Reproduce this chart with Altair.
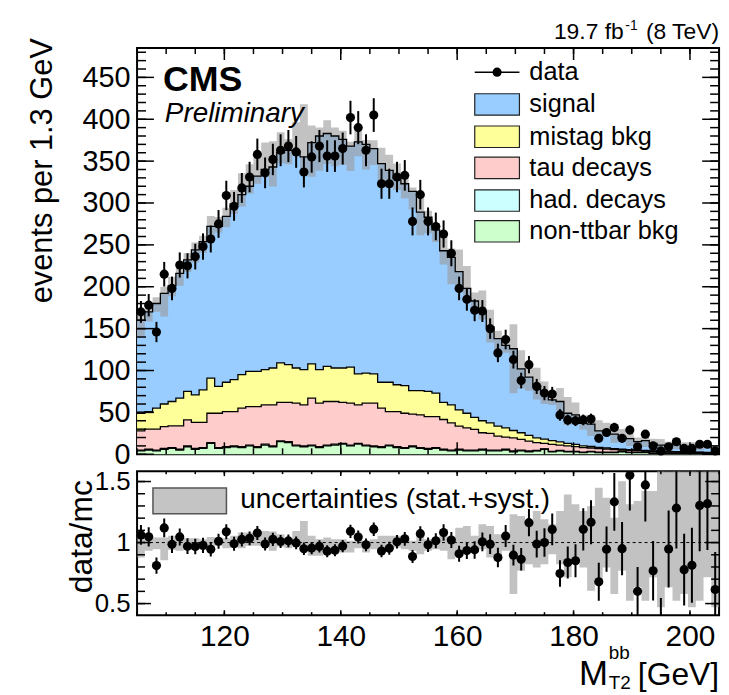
import altair as alt
import pandas as pd

FONT = "Liberation Sans"

# ---------------- data ----------------
x_lo, x_hi, n_bins = 105.0, 205.0, 75

data_counts = [170, 178, 146, 215, 198, 226, 225, 236, 248, 257,
               275, 309, 296, 318, 331, 358, 336, 352, 363, 368,
               361, 337, 355, 368, 356, 356, 365, 402, 390, 363,
               405, 323, 323, 331, 333, 278, 310, 278, 272, 263,
               240, 198, 185, 172, 171, 150, 121, 137, 113, 88,
               107, 81, 73, 72, 47, 41, 40, 41, 42, 19,
               26, 32, 19, 29, 9, 24, 10, 4, 9, 15,
               7, 7, 12, 12, 4]

signal = [111, 119, 125, 132, 138, 149, 157, 173, 177, 181,
          191, 198, 210, 215, 221, 233, 239, 240, 251, 256,
          259, 254, 264, 279, 278, 277, 273, 264, 277, 273,
          269, 261, 253, 246, 241, 238, 213, 208, 195, 181,
          176, 165, 149, 139, 130, 114.5, 104.4, 98.4, 97.6, 76.3,
          69.5, 62.3, 54.8, 48.6, 48.2, 35.9, 35.3, 26.9, 26.7, 19.8,
          19.9, 17.4, 14.0, 13.2, 10.0, 11.8, 8.9, 7.2, 6.1, 8.5,
          6.0, 5.9, 6.7, 6.8, 4.4]

mistag_bkg = [21, 21, 25, 27, 29, 33, 34, 33, 39, 42,
              32, 35, 38, 40, 42, 42, 42, 44, 47, 45,
              42, 42, 41, 40, 42, 40, 41, 43, 37, 36,
              35, 31, 35, 32, 33, 28, 29, 30, 28, 20.5,
              21.5, 19.4, 17.4, 14.4, 14.3, 12.6, 11.9, 11.1, 8.7, 7.9,
              6.7, 5.9, 5.2, 4.6, 3.8, 3.2, 2.6, 2.2, 1.8, 1.5,
              1.3, 1.1, 0.9, 0.8, 0.7, 0.6, 0.5, 0.5, 0.4, 0.4,
              0.4, 0.3, 0.3, 0.3, 0.3]

tau_decays = [23, 24, 25, 26, 26, 28, 31, 31, 30, 35,
              41, 42, 41, 46, 46, 48, 47, 49, 46, 47,
              50, 49, 56, 52, 52, 51, 49, 50, 46, 50,
              51, 46, 40, 42, 41, 38, 39, 38, 37, 35.5,
              32.5, 27.6, 26.6, 24.6, 19.7, 19.9, 16.7, 14.5, 15.7, 12.8,
              11.8, 9.3, 6.5, 8.3, 6.5, 6.4, 5.6, 5.4, 4.0, 4.2,
              3.8, 3.0, 1.6, 2.2, 1.8, 1.4, 2.1, 0.8, 1.5, 1.3,
              1.1, 0.9, 0.7, 0.7, 0.5]

had_decays = [1, 1, 1, 1, 1, 1, 1, 1, 1, 1,
              1, 1, 1, 1, 1, 1, 1, 1, 1, 1,
              1, 1, 1, 1, 1, 1, 1, 1, 1, 1,
              1, 1, 1, 1, 1, 1, 1, 1, 1, 1,
              1, 1, 1, 1, 1, 1, 1, 1, 1, 1,
              1, 0.5, 0.5, 0.5, 0.5, 0.5, 0.5, 0.5, 0.5, 0.5,
              0.5, 0.5, 0.5, 0.5, 0.5, 0.5, 0.5, 0.5, 0.5, 0.5,
              0.5, 0.5, 0.5, 0.3, 0.3]

non_ttbar = [4, 5, 4, 6, 7, 5, 9, 6, 7, 13,
             7, 8, 9, 8, 10, 8, 11, 9, 15, 14,
             10, 9, 10, 8, 10, 11, 12, 10, 12, 10,
             9, 8, 10, 8, 7, 9, 7, 6, 7, 5,
             4, 5, 4, 4, 5, 4, 4, 5, 3, 4,
             3, 4, 6, 3, 4, 3, 3, 2, 3, 2,
             2, 2, 3, 2, 2, 2, 1, 2, 1, 1,
             1, 1, 1, 1, 1]

unc_rel_hi = [1.046, 1.055, 1.041, 1.041, 1.055, 1.027, 1.036, 1.036, 1.027, 1.046,
              1.041, 1.036, 1.055, 1.082, 1.082, 1.068, 1.095, 1.090, 1.068, 1.036,
              1.095, 1.177, 1.055, 1.027, 1.041, 1.027, 1.027, 1.014, 1.041, 1.014,
              1.027, 1.055, 1.055, 1.055, 1.041, 1.014, 1.068, 1.027, 1.027, 1.082,
              1.046, 1.122, 1.136, 1.055, 1.150, 1.136, 1.068, 1.055, 1.231, 1.218,
              1.163, 1.258, 1.190, 1.150, 1.258, 1.394, 1.313, 1.258, 1.299, 1.449,
              1.367, 1.204, 1.503, 1.313, 1.340, 1.422, 1.422, 1.666, 1.585, 1.666,
              1.585, 1.666, 1.585, 1.666, 1.666]

unc_rel_lo = [0.878, 0.932, 0.946, 0.856, 0.938, 0.932, 0.938, 0.938, 0.946, 0.954,
              0.973, 0.954, 0.959, 0.954, 0.973, 0.973, 0.973, 0.932, 0.965, 0.954,
              0.986, 0.946, 0.891, 0.891, 0.905, 0.905, 0.919, 0.919, 0.954, 0.919,
              0.946, 0.919, 0.938, 0.959, 0.946, 0.932, 0.905, 0.932, 0.946, 0.932,
              0.864, 0.919, 0.959, 0.932, 0.946, 0.878, 0.851, 0.932, 0.579, 0.769,
              0.823, 0.796, 0.823, 0.905, 0.823, 0.715, 0.851, 0.796, 0.606, 0.688,
              0.796, 0.579, 0.769, 0.524, 0.633, 0.524, 0.715, 0.470, 0.633, 0.524,
              0.579, 0.470, 0.524, 0.715, 0.470]

comp_names = ["non-ttbar bkg", "had. decays", "tau decays", "mistag bkg", "signal"]
comp_colors = ["#ccffcc", "#ccffff", "#ffcccc", "#ffff99", "#99ccff"]
legend_order = ["signal", "mistag bkg", "tau decays", "had. decays", "non-ttbar bkg"]

y_major = [0, 50, 100, 150, 200, 250, 300, 350, 400, 450]
y_minor = list(range(0, 481, 10))
x_major = [120, 140, 160, 180, 200]
x_minor = list(range(105, 206, 5))
r_major = [0.5, 1.0, 1.5]
r_minor = [0.5, 0.6, 0.7, 0.8, 0.9, 1.0, 1.1, 1.2, 1.3, 1.4, 1.5]

# ---------------- tables ----------------
bw = (x_hi - x_lo) / n_bins
edges = [x_lo + i * bw for i in range(n_bins + 1)]
centers = [x_lo + (i + 0.5) * bw for i in range(n_bins)]

components = [non_ttbar, had_decays, tau_decays, mistag_bkg, signal]
rows = []
cum = [0.0] * n_bins
for name, vals in zip(comp_names, components):
    new = [c + v for c, v in zip(cum, vals)]
    for i in range(n_bins + 1):
        j = min(i, n_bins - 1)
        rows.append({"x": edges[i], "lo": cum[j], "hi": new[j], "comp": name})
    cum = new
total = cum
stack_df = pd.DataFrame(rows)

band_rows = []
for i in range(n_bins + 1):
    j = min(i, n_bins - 1)
    band_rows.append({"x": edges[i],
                      "lo": total[j] * unc_rel_lo[j], "hi": total[j] * unc_rel_hi[j],
                      "rlo": unc_rel_lo[j], "rhi": unc_rel_hi[j]})
band_df = pd.DataFrame(band_rows)

pts = pd.DataFrame({"c": centers, "n": data_counts, "t": total})
pts["e"] = pts["n"] ** 0.5
pts["n_lo"] = pts["n"] - pts["e"]
pts["n_hi"] = pts["n"] + pts["e"]
pts["r"] = pts["n"] / pts["t"]
pts["r_lo"] = (pts["n"] - pts["e"]) / pts["t"]
pts["r_hi"] = (pts["n"] + pts["e"]) / pts["t"]

one = pd.DataFrame({"k": [0]})

W, H1, H2 = 586, 409, 145
xscale = alt.Scale(domain=[x_lo, x_hi], nice=False, zero=False)
yscale = alt.Scale(domain=[0, 485], nice=False, zero=True)
rscale = alt.Scale(domain=[0.405, 1.585], nice=False, zero=False)

top_y_axis = alt.Axis(values=y_major, format="d", labelFontSize=29, labelFont=FONT,
                      labelColor="black", ticks=False, domain=False, grid=False,
                      title=None, labelPadding=7, labelOverlap=False)
r_x_axis = alt.Axis(values=x_major, format="d", labelFontSize=30, labelFont=FONT,
                    labelColor="black", ticks=False, domain=False, grid=False,
                    title=None, labelPadding=7, labelFlush=False, labelOverlap=False)
r_y_axis = alt.Axis(values=r_major, format="~g", labelFontSize=26, labelFont=FONT,
                    labelColor="black", ticks=False, domain=False, grid=False,
                    title=None, labelPadding=7, labelOverlap=False)


def txt(text, x, y, size, align="left", baseline="alphabetic", **kw):
    return alt.Chart(one).mark_text(text=text, fontSize=size, font=FONT, color="black",
                                    align=align, baseline=baseline, **kw).encode(
        x=alt.value(x), y=alt.value(y))


def side_ticks(vals, scale, axis, ch, length, Wd, Hd, sw=1.5):
    df = pd.DataFrame({"v": vals})
    out = []
    if ch == "y":
        for a, b in [(0, length), (Wd - length, Wd)]:
            out.append(alt.Chart(df).mark_rule(color="black", strokeWidth=sw).encode(
                y=alt.Y("v:Q", scale=scale, axis=axis), x=alt.value(a), x2=alt.value(b)))
    else:
        for a, b in [(0, length), (Hd - length, Hd)]:
            out.append(alt.Chart(df).mark_rule(color="black", strokeWidth=sw).encode(
                x=alt.X("v:Q", scale=scale, axis=axis), y=alt.value(a), y2=alt.value(b)))
    return out


# ---------------- top panel ----------------
area = alt.Chart(stack_df).mark_area(interpolate="step-after").encode(
    x=alt.X("x:Q", scale=xscale, axis=None),
    y=alt.Y("hi:Q", scale=yscale, stack=None, axis=top_y_axis),
    y2="lo:Q",
    color=alt.Color("comp:N", scale=alt.Scale(domain=comp_names, range=comp_colors), legend=None),
)
edges_line = alt.Chart(stack_df).mark_line(interpolate="step-after", color="black",
                                           strokeWidth=1.3).encode(
    x=alt.X("x:Q", scale=xscale, axis=None),
    y=alt.Y("hi:Q", scale=yscale, stack=None, axis=top_y_axis),
    detail="comp:N")
band = alt.Chart(band_df).mark_area(interpolate="step-after", color="#9a9a9a",
                                    opacity=0.6).encode(
    x=alt.X("x:Q", scale=xscale, axis=None),
    y=alt.Y("hi:Q", scale=yscale, axis=top_y_axis), y2="lo:Q")
err = alt.Chart(pts).mark_rule(color="black", strokeWidth=2).encode(
    x=alt.X("c:Q", scale=xscale, axis=None),
    y=alt.Y("n_lo:Q", scale=yscale, axis=top_y_axis), y2="n_hi:Q")
dots = alt.Chart(pts).mark_circle(size=85, color="black", opacity=1).encode(
    x=alt.X("c:Q", scale=xscale, axis=None),
    y=alt.Y("n:Q", scale=yscale, axis=top_y_axis))

top_layers = [area, band, edges_line, err, dots]
top_layers += side_ticks(y_minor, yscale, top_y_axis, "y", 9, W, H1)
top_layers += side_ticks(y_major, yscale, top_y_axis, "y", 17, W, H1)
top_layers += side_ticks(x_minor, xscale, None, "x", 6, W, H1)
top_layers += side_ticks(x_major, xscale, None, "x", 12, W, H1)

# legend (top panel)
top_layers.append(alt.Chart(one).mark_rule(color="black", strokeWidth=1.5).encode(
    x=alt.value(340), x2=alt.value(385), y=alt.value(24.3)))
top_layers.append(alt.Chart(one).mark_circle(size=85, color="black", opacity=1).encode(
    x=alt.value(362.5), y=alt.value(24.3)))
top_layers.append(txt("data", 395, 24.3, 25.5, baseline="middle"))
leg_y = [56.8, 89.3, 120.7, 153.5, 184.5]
for name, yc in zip(legend_order, leg_y):
    col = comp_colors[comp_names.index(name)]
    top_layers.append(alt.Chart(one).mark_rect(fill=col, stroke="#222222", strokeWidth=1.2).encode(
        x=alt.value(340), x2=alt.value(385), y=alt.value(yc - 10.8), y2=alt.value(yc + 10.8)))
    top_layers.append(txt(name, 395, yc, 25.5, baseline="middle"))

top_layers.append(txt("CMS", 26, 43, 36, fontWeight="bold"))
top_layers.append(txt("Preliminary", 28, 74, 28, fontStyle="italic"))
# 19.7 fb^-1 (8 TeV)
top_layers.append(txt("(8 TeV)", W, -9, 23, align="right"))
top_layers.append(txt("-1", 504, -18, 14, align="right"))
top_layers.append(txt("19.7 fb", 490, -9, 23, align="right"))
top_layers.append(txt("events per 1.3 GeV", -95, 123.5, 31, align="center",
                      baseline="middle", angle=270))

top = alt.layer(*top_layers).properties(width=W, height=H1)

# ---------------- ratio panel ----------------
rband = alt.Chart(band_df).mark_area(interpolate="step-after", color="#9a9a9a",
                                     opacity=0.6, clip=True).encode(
    x=alt.X("x:Q", scale=xscale, axis=r_x_axis),
    y=alt.Y("rhi:Q", scale=rscale, axis=r_y_axis),
    y2="rlo:Q")
one_line = alt.Chart(one).mark_rule(color="black", strokeWidth=1, strokeDash=[3, 3]).encode(
    y=alt.YDatum(1.0, scale=rscale, axis=r_y_axis))
rerr = alt.Chart(pts).mark_rule(color="black", strokeWidth=2, clip=True).encode(
    x=alt.X("c:Q", scale=xscale, axis=r_x_axis),
    y=alt.Y("r_lo:Q", scale=rscale, axis=r_y_axis), y2="r_hi:Q")
rdots = alt.Chart(pts).mark_circle(size=85, color="black", opacity=1, clip=True).encode(
    x=alt.X("c:Q", scale=xscale, axis=r_x_axis),
    y=alt.Y("r:Q", scale=rscale, axis=r_y_axis))

r_layers = [rband, one_line, rerr, rdots]
r_layers += side_ticks(r_minor, rscale, r_y_axis, "y", 8, W, H2)
r_layers += side_ticks(r_major, rscale, r_y_axis, "y", 14, W, H2)
r_layers += side_ticks(x_minor, xscale, r_x_axis, "x", 3, W, H2)
r_layers += side_ticks(x_major, xscale, r_x_axis, "x", 5, W, H2)

r_layers.append(alt.Chart(one).mark_rect(fill="#c4c4c4", stroke="#555555", strokeWidth=1.5).encode(
    x=alt.value(16), x2=alt.value(90), y=alt.value(17), y2=alt.value(43)))
r_layers.append(txt("uncertainties (stat.+syst.)", 104, 37, 28))
r_layers.append(txt("data/mc", -55, 66, 32, align="center", baseline="middle", angle=270))
# x-axis title  M_T2^bb [GeV]
r_layers.append(txt("M", 474, 215, 35, align="right"))
r_layers.append(txt("bb", 475, 189, 19))
r_layers.append(txt("T2", 475, 219, 19))
r_layers.append(txt("[GeV]", W, 215, 32, align="right"))

ratio = alt.layer(*r_layers).properties(width=W, height=H2)

chart = alt.vconcat(top, ratio, spacing=17, bounds="flush").properties(
    padding={"left": 26, "top": 16, "right": 6, "bottom": 0},
    background="white",
).configure_view(stroke="black", strokeWidth=2)

chart.save("out.html", embed_options={"renderer": "svg", "actions": False})
